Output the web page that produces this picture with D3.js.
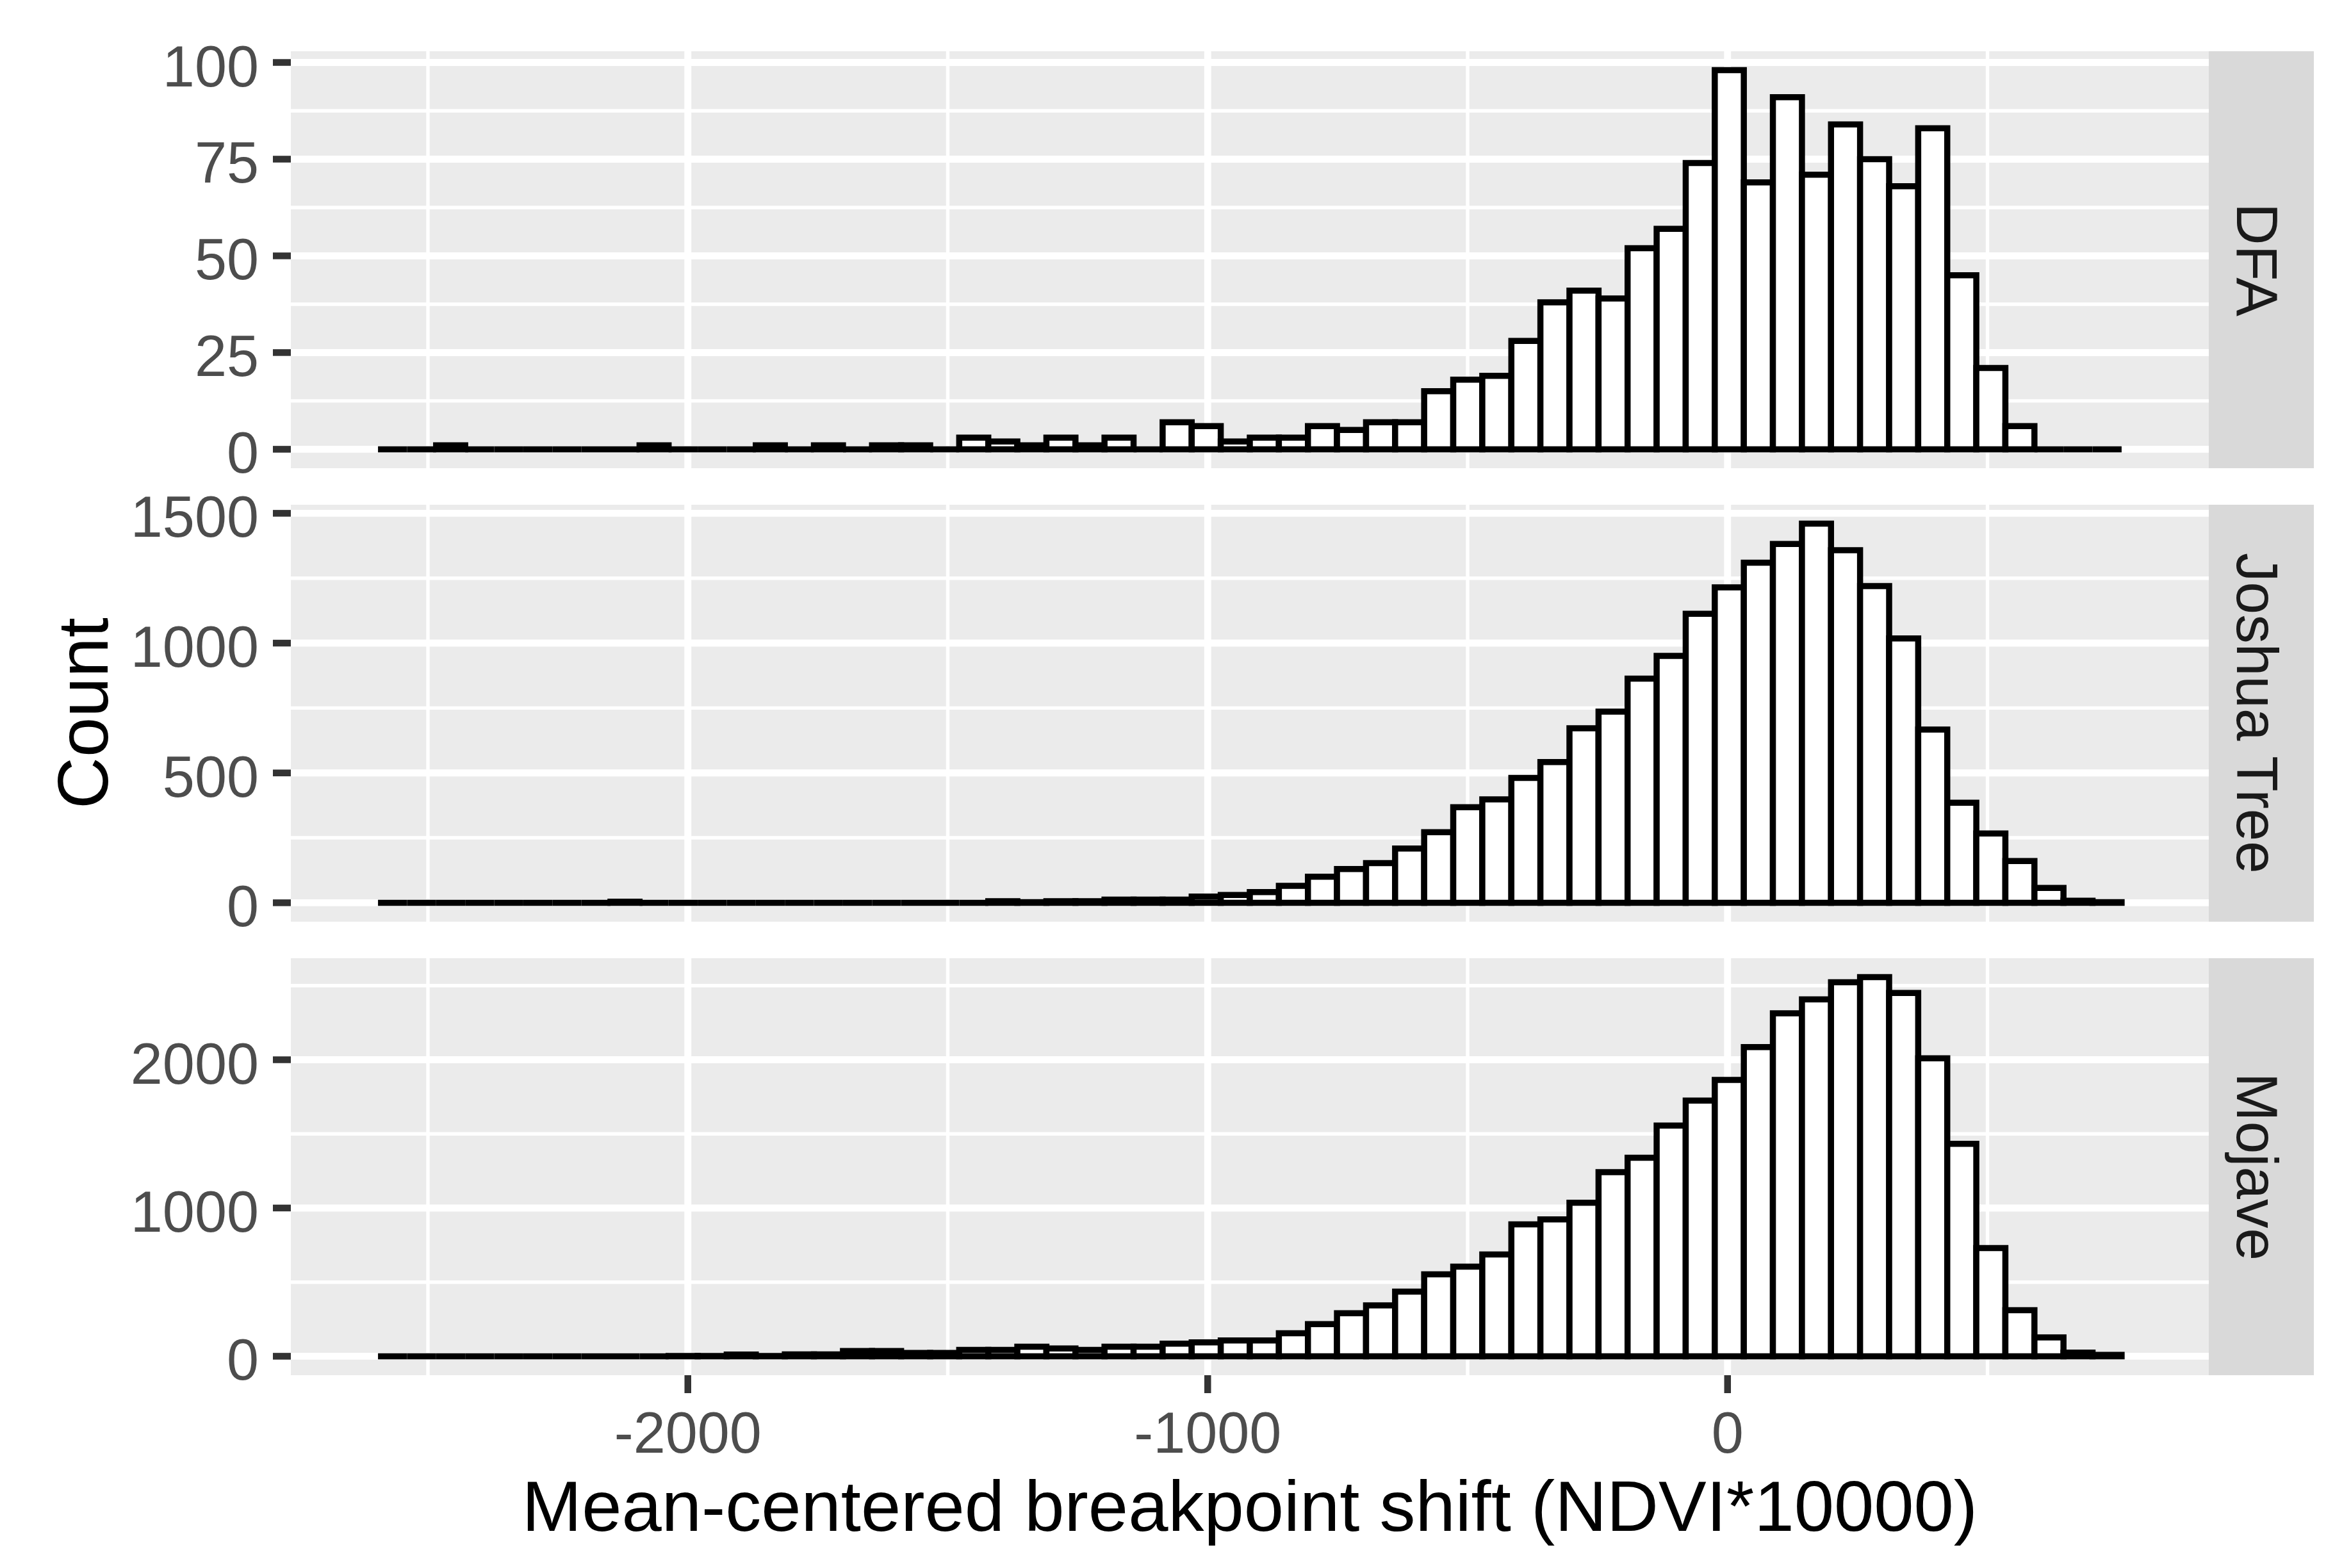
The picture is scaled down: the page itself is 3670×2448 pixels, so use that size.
<!DOCTYPE html>
<html><head><meta charset="utf-8">
<script src="https://cdn.jsdelivr.net/npm/d3@7"></script>
<style>html,body{margin:0;padding:0;background:#fff;} svg{display:block;}</style>
</head><body>
<svg id="chart" width="3670" height="2448"></svg>
<script>
// ---- data ----
const facets = ["DFA", "Joshua Tree", "Mojave"];
const binStart = -2596;   // left edge of first histogram bin
const binWidth = 55.9;    // histogram bin width
const dfaCounts = [0,0,1,0,0,0,0,0,0,1, 0,0,0,1,0,1,0,1,1,0, 3,2,1,3,1,3,0,7,6,2,
                   3,3,6,5,7,7,15,18,19,28, 38,41,39,52,57,74,98,69,91,71, 84,75,68,83,45,21,6,0,0,0];
const joshuaCounts = [0,0,0,0,0,0,0,0,4,0, 0,0,0,0,0,0,0,0,0,0, 0,6,2,6,6,12,12,12,24,30,
                      41,65,100,130,153,209,272,368,398,481, 542,672,736,863,951,1113,1215,1310,1382,1460,
                      1358,1220,1018,667,385,267,161,57,8,2];
const mojaveCounts = [0,0,0,0,0,0,0,0,0,0, 2,2,12,2,13,13,35,35,22,22, 43,43,64,53,43,64,64,85,94,107,
                      107,155,217,290,343,436,553,605,687,890, 923,1036,1242,1339,1556,1725,1864,2085,2313,2407,
                      2523,2557,2450,2010,1433,730,311,127,24,9];
const xTicks = [-2000, -1000, 0];
const xMinorTicks = [-2500, -1500, -500, 500];
const dfaTicks = [0, 25, 50, 75, 100];
const dfaMinor = [12.5, 37.5, 62.5, 87.5];
const joshuaTicks = [0, 500, 1000, 1500];
const joshuaMinor = [250, 750, 1250];
const mojaveTicks = [0, 1000, 2000];
const mojaveMinor = [500, 1500, 2500];
const xTitle = "Mean-centered breakpoint shift (NDVI*10000)";
const yTitle = "Count";

// ---- layout ----
const W = 3670, H = 2448;
const panelLeft = 454, panelRight = 3448;
const panelTops = [80, 788, 1496];
const panelH = 651;
const stripW = 164;
const font = "'Liberation Sans', Arial, Helvetica, sans-serif";
const majorW = 10.9, minorW = 5.4, barStroke = 9.5, tickLen = 28;

const svg = d3.select("#chart");
svg.append("rect").attr("width", W).attr("height", H).attr("fill", "#fff");

const nBins = dfaCounts.length;
const xLo = binStart, xHi = binStart + nBins * binWidth;
const xPad = (xHi - xLo) * 0.05;
const x = d3.scaleLinear().domain([xLo - xPad, xHi + xPad]).range([panelLeft, panelRight]);

const panels = [
  {name: facets[0], counts: dfaCounts, ticks: dfaTicks, minor: dfaMinor},
  {name: facets[1], counts: joshuaCounts, ticks: joshuaTicks, minor: joshuaMinor},
  {name: facets[2], counts: mojaveCounts, ticks: mojaveTicks, minor: mojaveMinor}
];

panels.forEach((p, pi) => {
  const top = panelTops[pi], bottom = top + panelH;
  const ymax = d3.max(p.counts);
  const y = d3.scaleLinear().domain([-0.05 * ymax, 1.05 * ymax]).range([bottom, top]);
  const g = svg.append("g");
  const clipId = "clip" + pi;
  svg.append("clipPath").attr("id", clipId).append("rect")
    .attr("x", panelLeft).attr("y", top).attr("width", panelRight - panelLeft).attr("height", panelH);
  const gp = g.append("g").attr("clip-path", `url(#${clipId})`);
  gp.append("rect").attr("x", panelLeft).attr("y", top)
    .attr("width", panelRight - panelLeft).attr("height", panelH).attr("fill", "#EBEBEB");
  // minor grid
  gp.selectAll(".hmin").data(p.minor).join("line")
    .attr("x1", panelLeft).attr("x2", panelRight)
    .attr("y1", d => y(d)).attr("y2", d => y(d))
    .attr("stroke", "#fff").attr("stroke-width", minorW);
  gp.selectAll(".vmin").data(xMinorTicks).join("line")
    .attr("y1", top).attr("y2", bottom)
    .attr("x1", d => x(d)).attr("x2", d => x(d))
    .attr("stroke", "#fff").attr("stroke-width", minorW);
  // major grid
  gp.selectAll(".hmaj").data(p.ticks).join("line")
    .attr("x1", panelLeft).attr("x2", panelRight)
    .attr("y1", d => y(d)).attr("y2", d => y(d))
    .attr("stroke", "#fff").attr("stroke-width", majorW);
  gp.selectAll(".vmaj").data(xTicks).join("line")
    .attr("y1", top).attr("y2", bottom)
    .attr("x1", d => x(d)).attr("x2", d => x(d))
    .attr("stroke", "#fff").attr("stroke-width", majorW);
  // bars (paths so that zero-count bins still draw their outline)
  gp.selectAll(".bar").data(p.counts).join("path")
    .attr("d", (d, i) => {
      const x0 = x(binStart + i * binWidth), x1 = x(binStart + (i + 1) * binWidth);
      const y0 = y(0), y1 = y(d);
      return `M${x0},${y0}H${x1}V${y1}H${x0}Z`;
    })
    .attr("fill", "#fff").attr("stroke", "#000")
    .attr("stroke-width", barStroke).attr("stroke-linejoin", "miter");
  // y ticks
  g.selectAll(".yt").data(p.ticks).join("line")
    .attr("x1", panelLeft - tickLen).attr("x2", panelLeft)
    .attr("y1", d => y(d)).attr("y2", d => y(d))
    .attr("stroke", "#333333").attr("stroke-width", 10.5);
  g.selectAll(".yl").data(p.ticks).join("text")
    .attr("x", 404).attr("y", d => y(d) + 37)
    .attr("text-anchor", "end")
    .attr("font-family", font).attr("font-size", 90).attr("fill", "#4D4D4D")
    .text(d => d);
  // strip
  g.append("rect").attr("x", panelRight).attr("y", top)
    .attr("width", stripW).attr("height", panelH).attr("fill", "#D9D9D9");
  g.append("text")
    .attr("transform", `translate(${3492},${top + panelH / 2}) rotate(90)`)
    .attr("text-anchor", "middle")
    .attr("font-family", font).attr("font-size", 91).attr("fill", "#1A1A1A")
    .text(p.name);
});

// x axis (bottom panel)
const lastBottom = panelTops[2] + panelH;
svg.selectAll(".xt").data(xTicks).join("line")
  .attr("x1", d => x(d)).attr("x2", d => x(d))
  .attr("y1", lastBottom).attr("y2", lastBottom + tickLen)
  .attr("stroke", "#333333").attr("stroke-width", 10.5);
svg.selectAll(".xl").data(xTicks).join("text")
  .attr("x", d => x(d)).attr("y", 2268)
  .attr("text-anchor", "middle")
  .attr("font-family", font).attr("font-size", 90).attr("fill", "#4D4D4D")
  .text(d => d);

// axis titles
svg.append("text")
  .attr("x", (panelLeft + panelRight) / 2).attr("y", 2390)
  .attr("text-anchor", "middle")
  .attr("font-family", font).attr("font-size", 112).attr("fill", "#000")
  .text(xTitle);
svg.append("text")
  .attr("transform", `translate(168,${(panelTops[0] + lastBottom) / 2}) rotate(-90)`)
  .attr("text-anchor", "middle")
  .attr("font-family", font).attr("font-size", 112).attr("fill", "#000")
  .text(yTitle);
</script>
</body></html>
